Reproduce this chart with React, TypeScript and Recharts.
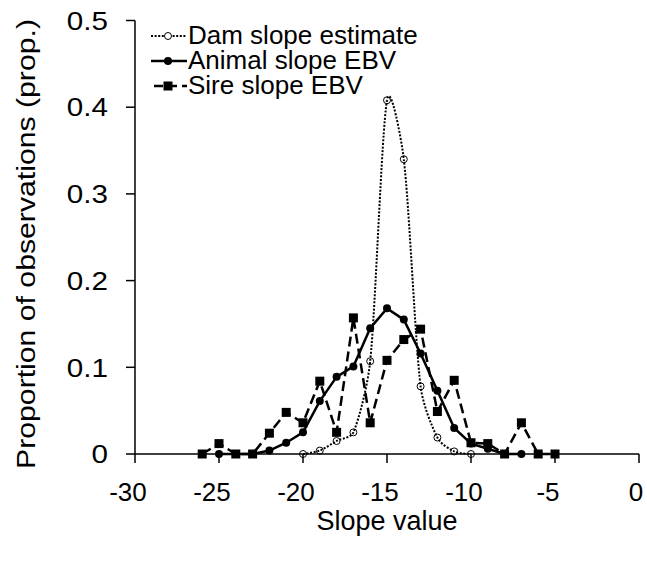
import React from "react";
import { LineChart, Line, XAxis, YAxis } from "recharts";

// slope values (x) and proportions (y)
const damX = [-20, -19, -18, -17, -16, -15, -14, -13, -12, -11, -10];
const damY = [0, 0.004, 0.015, 0.025, 0.107, 0.408, 0.34, 0.078, 0.019, 0.003, 0];

const animalX = [-25, -24, -23, -22, -21, -20, -19, -18, -17, -16, -15, -14, -13, -12, -11, -10, -9, -8, -7];
const animalY = [0, 0, 0, 0.004, 0.013, 0.025, 0.061, 0.089, 0.101, 0.145, 0.168, 0.155, 0.116, 0.073, 0.03, 0.012, 0.006, 0, 0];

const sireX = [-26, -25, -24, -23, -22, -21, -20, -19, -18, -17, -16, -15, -14, -13, -12, -11, -10, -9, -8, -7, -6, -5];
const sireY = [0, 0.012, 0, 0, 0.024, 0.048, 0.036, 0.084, 0.025, 0.157, 0.036, 0.108, 0.132, 0.144, 0.049, 0.085, 0.013, 0.012, 0, 0.036, 0, 0];

const seriesNames = ["Dam slope estimate", "Animal slope EBV", "Sire slope EBV"];
const xTicks = [-30, -25, -20, -15, -10, -5, 0];
const yTicks = [0, 0.1, 0.2, 0.3, 0.4, 0.5];

const zip = (xs: number[], ys: number[]) => xs.map((x, i) => ({ x, y: ys[i] }));
const damData = zip(damX, damY);
const animalData = zip(animalX, animalY);
const sireData = zip(sireX, sireY);

const FONT = "'Liberation Sans', Arial, sans-serif";

// Excel-like smoothed line: cardinal bezier, control arms limited by segment length
function smoothCurve(context: any) {
  const k = 1 / 6;
  const maxRatio = 1 / 3;
  let x0 = NaN, x1 = NaN, x2 = NaN, y0 = NaN, y1 = NaN, y2 = NaN;
  let n = 0;
  let line = NaN as any;
  const clampArm = (ax: number, ay: number, segLen: number) => {
    const len = Math.hypot(ax, ay);
    const lim = segLen * maxRatio;
    if (len > lim && len > 0) return [(ax * lim) / len, (ay * lim) / len];
    return [ax, ay];
  };
  const seg = (x: number, y: number) => {
    const segLen = Math.hypot(x2 - x1, y2 - y1);
    const a = clampArm(k * (x2 - x0), k * (y2 - y0), segLen);
    const b = clampArm(k * (x1 - x), k * (y1 - y), segLen);
    context.bezierCurveTo(x1 + a[0], y1 + a[1], x2 + b[0], y2 + b[1], x2, y2);
  };
  return {
    areaStart() { line = 0; },
    areaEnd() { line = NaN; },
    lineStart() { x0 = x1 = x2 = y0 = y1 = y2 = NaN; n = 0; },
    lineEnd() {
      if (n === 2) context.lineTo(x2, y2);
      else if (n === 3) seg(x1, y1);
      if (line || (line !== 0 && n === 1)) context.closePath();
      line = 1 - line;
    },
    point(x: number, y: number) {
      x = +x; y = +y;
      if (n === 0) {
        n = 1;
        line ? context.lineTo(x, y) : context.moveTo(x, y);
      } else if (n === 1) {
        n = 2;
        x1 = x; y1 = y;
      } else {
        n = 3;
        seg(x, y);
      }
      x0 = x1; x1 = x2; x2 = x;
      y0 = y1; y1 = y2; y2 = y;
    },
  };
}

const SquareDot = (props: any) => {
  const { cx, cy, index } = props;
  if (cx == null || cy == null) return <g key={"s" + index} />;
  return <rect key={"s" + index} x={cx - 4.5} y={cy - 4.5} width={9} height={9} fill="#000" />;
};

const XTick = (props: any) => {
  const { x, y, payload } = props;
  return (
    <text x={x} y={y} dx={payload.value < 0 ? -7 : -3} dy="0.71em" textAnchor="middle" fill="#000" fontSize={26} fontFamily={FONT}>
      {payload.value}
    </text>
  );
};

const YTick = (props: any) => {
  const { x, y, payload } = props;
  const v = payload.value;
  return (
    <text x={0} y={0} dy="0.355em" transform={`translate(${x},${y}) scale(1.14,1)`} textAnchor="end" fill="#000" fontSize={26} fontFamily={FONT}>
      {v === 0 ? "0" : v.toFixed(1)}
    </text>
  );
};

function LegendIcon({ kind }: { kind: number }) {
  return (
    <svg width={36} height={20} style={{ display: "block" }}>
      {kind === 0 && (
        <>
          <line x1={0} y1={10} x2={36} y2={10} stroke="#000" strokeWidth={2} strokeDasharray="2 1.6" />
          <circle cx={17} cy={10} r={3.5} fill="#fff" stroke="#000" strokeWidth={1} />
        </>
      )}
      {kind === 1 && (
        <>
          <line x1={0} y1={10} x2={36} y2={10} stroke="#000" strokeWidth={2.5} />
          <circle cx={17} cy={10} r={4} fill="#000" />
        </>
      )}
      {kind === 2 && (
        <>
          <line x1={0} y1={10} x2={36} y2={10} stroke="#000" strokeWidth={2.5} strokeDasharray="9 5" strokeDashoffset={-3} />
          <rect x={12.5} y={5.5} width={9} height={9} fill="#000" />
        </>
      )}
    </svg>
  );
}

export default function App() {
  return (
    <div style={{ position: "fixed", left: 0, top: 0, width: 647, height: 561, fontFamily: FONT, background: "#fff" }}>
      <LineChart width={647} height={561} margin={{ top: 20.5, right: 8, left: 75, bottom: 57 }}>
        <XAxis
          type="number"
          dataKey="x"
          domain={[-30, 0]}
          ticks={xTicks}
          allowDataOverflow
          interval={0}
          height={50}
          stroke="#000"
          axisLine={{ stroke: "#000", strokeWidth: 1.5 }}
          tickLine={{ stroke: "#000", strokeWidth: 1.5 }}
          tickSize={9}
          tickMargin={20}
          tick={<XTick />}
          label={{ value: "Slope value", position: "bottom", offset: 7, fill: "#000", fontSize: 27, fontFamily: FONT }}
        />
        <YAxis
          type="number"
          dataKey="y"
          domain={[0, 0.5]}
          ticks={yTicks}
          interval={0}
          width={60}
          stroke="#000"
          axisLine={{ stroke: "#000", strokeWidth: 1.5 }}
          tickLine={{ stroke: "#000", strokeWidth: 1.5 }}
          tickSize={9}
          tickMargin={18}
          tick={<YTick />}
          label={{
            content: () => (
              <text
                x={0}
                y={0}
                transform="translate(35,244) rotate(-90) scale(1.14,1)"
                textAnchor="middle"
                fill="#000"
                fontSize={26.5}
                fontFamily={FONT}
              >
                Proportion of observations (prop.)
              </text>
            ),
          }}
        />
        <Line
          data={damData}
          dataKey="y"
          name={seriesNames[0]}
          type={smoothCurve as any}
          stroke="#000"
          strokeWidth={2}
          strokeDasharray="2 1.6"
          dot={{ r: 3.5, fill: "none", stroke: "#000", strokeWidth: 1, strokeDasharray: "" }}
          activeDot={false}
          isAnimationActive={false}
        />
        <Line
          data={animalData}
          dataKey="y"
          name={seriesNames[1]}
          type="linear"
          stroke="#000"
          strokeWidth={2.5}
          dot={{ r: 4, fill: "#000", stroke: "none" }}
          activeDot={false}
          isAnimationActive={false}
        />
        <Line
          data={sireData}
          dataKey="y"
          name={seriesNames[2]}
          type="linear"
          stroke="#000"
          strokeWidth={2.5}
          strokeDasharray="10 5"
          dot={SquareDot}
          activeDot={false}
          isAnimationActive={false}
        />
      </LineChart>
      <div style={{ position: "absolute", left: 151, top: 23, color: "#000" }}>
        {seriesNames.map((name, i) => (
          <div key={name} style={{ display: "flex", alignItems: "center", height: 25 }}>
            <LegendIcon kind={i} />
            <span style={{ fontSize: 26, lineHeight: "25px", marginLeft: 1, whiteSpace: "nowrap" }}>{name}</span>
          </div>
        ))}
      </div>
    </div>
  );
}
